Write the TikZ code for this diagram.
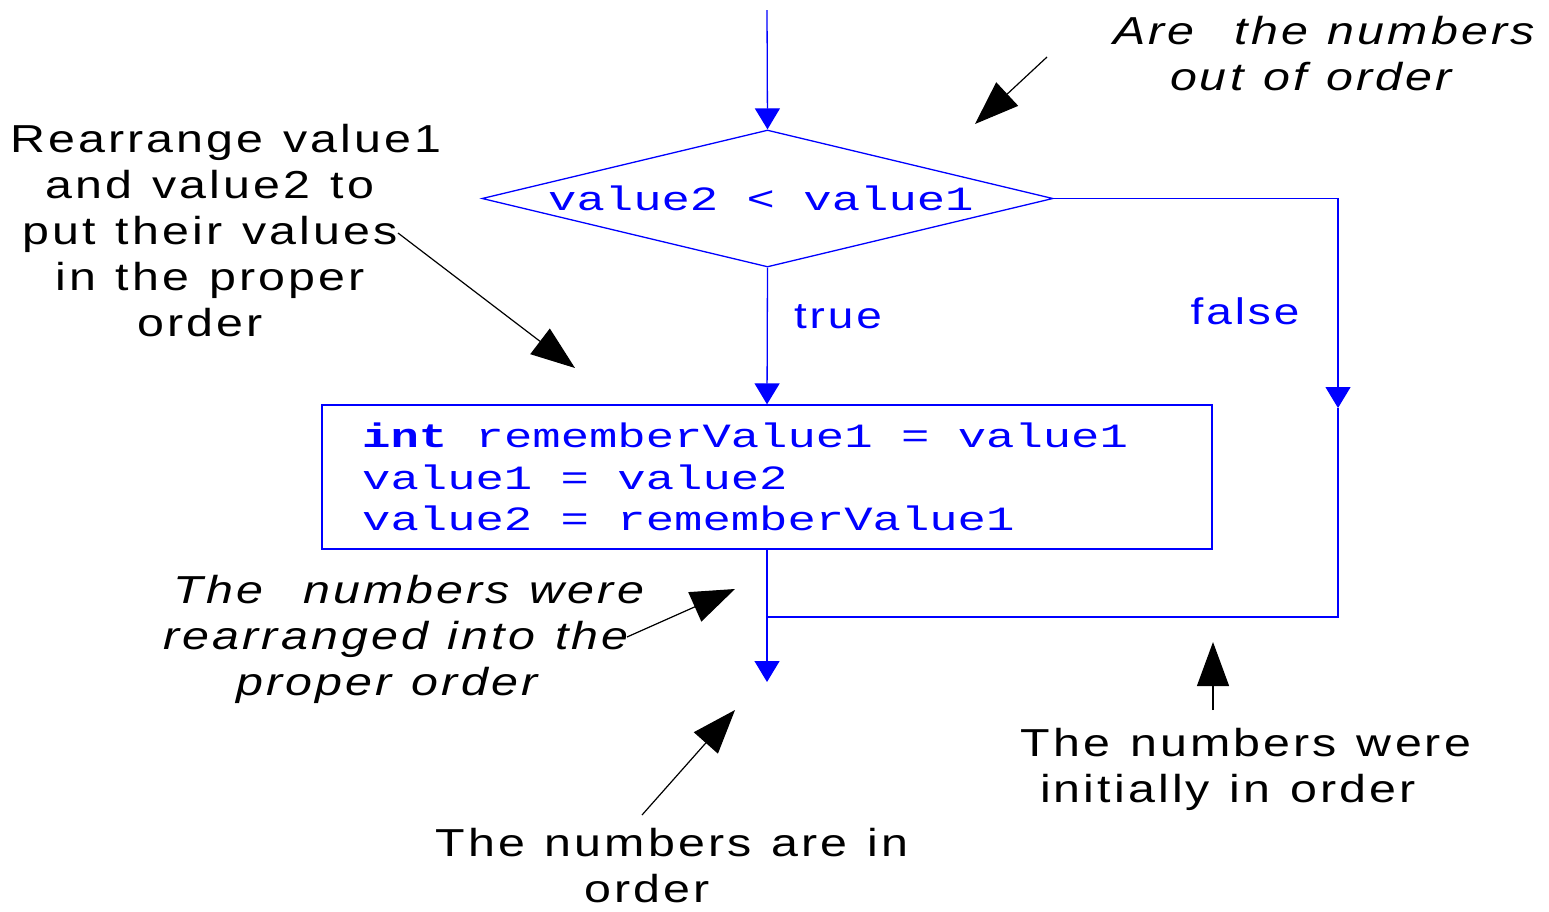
\documentclass[tikz,border=0pt]{standalone}
\usepackage{fontspec}
\setmainfont{Liberation Sans}
\newfontfamily\annfont[FakeStretch=1.24,LetterSpace=8,WordSpace=1.2]{Liberation Sans}
\newfontfamily\codefont[FakeStretch=1.39]{Liberation Mono}
\newcommand\csp{\hspace*{28.4pt}}
\usetikzlibrary{arrows.meta,shapes.geometric}
\definecolor{fblue}{RGB}{0,0,255}
\tikzset{
  flow/.style={draw=fblue, line width=1.3pt},
  bluearrow/.style={flow, -{Triangle[length=21pt,width=25pt]}},
  notearrow/.style={draw=black, line width=1.2pt, -{Triangle[length=44pt,width=32pt]}},
  note/.style={font=\annfont\fontsize{39}{46}\selectfont, align=center, inner sep=0pt, text=black},
  inote/.style={note, font=\annfont\itshape\fontsize{39}{46}\selectfont},
  codetext/.style={font=\codefont\fontsize{34}{41.5}\selectfont, text=fblue, inner sep=0pt},
  branchlabel/.style={font=\annfont\fontsize{37}{44}\selectfont, text=fblue, inner sep=0pt}
}
\begin{document}
\begin{tikzpicture}[x=1pt,y=-1pt]
\useasboundingbox (0,0) rectangle (1549,911);
% flowchart
\coordinate (start) at (767,10);
\node[diamond, flow, aspect=4.17, minimum width=571pt, minimum height=137pt, inner sep=0pt] (dec) at (767.5,198.5) {};
\node[codetext, anchor=west] (dectext) at (548,198) {value2\csp<\csp value1};
\node[rectangle, flow, minimum width=890pt, minimum height=144pt, inner sep=0pt] (box) at (767,477) {};
\node[codetext, anchor=west] (c1) at (362,435) {\textbf{int}\csp rememberValue1\csp=\csp value1};
\node[codetext, anchor=west] (c2) at (362,477) {value1\csp=\csp value2};
\node[codetext, anchor=west] (c3) at (362,518) {value2\csp=\csp rememberValue1};
\coordinate (fdrop) at (1338,408);
\coordinate (joinR) at (1338,617);
\coordinate (join) at (767,617);
\coordinate (endpt) at (767,682);
\draw[bluearrow] (start) -- (dec.north);
\draw[bluearrow] (dec.south) -- (box.north);
\draw[bluearrow] (dec.east) -| (fdrop);
\draw[flow] (fdrop) -- (joinR) -- (join);
\draw[bluearrow] (box.south) -- (endpt);
\node[branchlabel] (t) at (838,317) {true};
\node[branchlabel] (f) at (1245,311) {false};
% annotations
\node[inote] (n1) at (1318,54) {\hspace*{12pt}Are\ \ the numbers\\out of order\hspace*{14pt}};
\node[note] (n2) at (210,231) {\hspace*{32pt}Rearrange value1\\and value2 to\hspace*{4pt}\\put their values\hspace*{10pt}\\in the proper\\order\hspace*{20pt}};
\node[inote] (n3) at (396,639) {\hspace*{26pt}The\ \ numbers were\\rearranged into the\hspace*{6pt}\\proper order\hspace*{18pt}};
\node[note] (n4) at (660,866) {\hspace*{24pt}The numbers are in\\order\hspace*{26pt}};
\node[note] (n5) at (1237,769) {\hspace*{18pt}The numbers were\\initially in order\hspace*{18pt}};
\coordinate (a1s) at (1047,57);  \coordinate (a1e) at (975,124);
\coordinate (a2s) at (398,233);  \coordinate (a2e) at (575,368);
\coordinate (a3s) at (627,637);  \coordinate (a3e) at (735,589);
\coordinate (a4s) at (642,815);  \coordinate (a4e) at (735,710);
\coordinate (a5s) at (1213,710); \coordinate (a5e) at (1213,642);
\draw[notearrow] (a1s) -- (a1e);
\draw[notearrow] (a2s) -- (a2e);
\draw[notearrow] (a3s) -- (a3e);
\draw[notearrow] (a4s) -- (a4e);
\draw[notearrow] (a5s) -- (a5e);
\end{tikzpicture}
\end{document}
